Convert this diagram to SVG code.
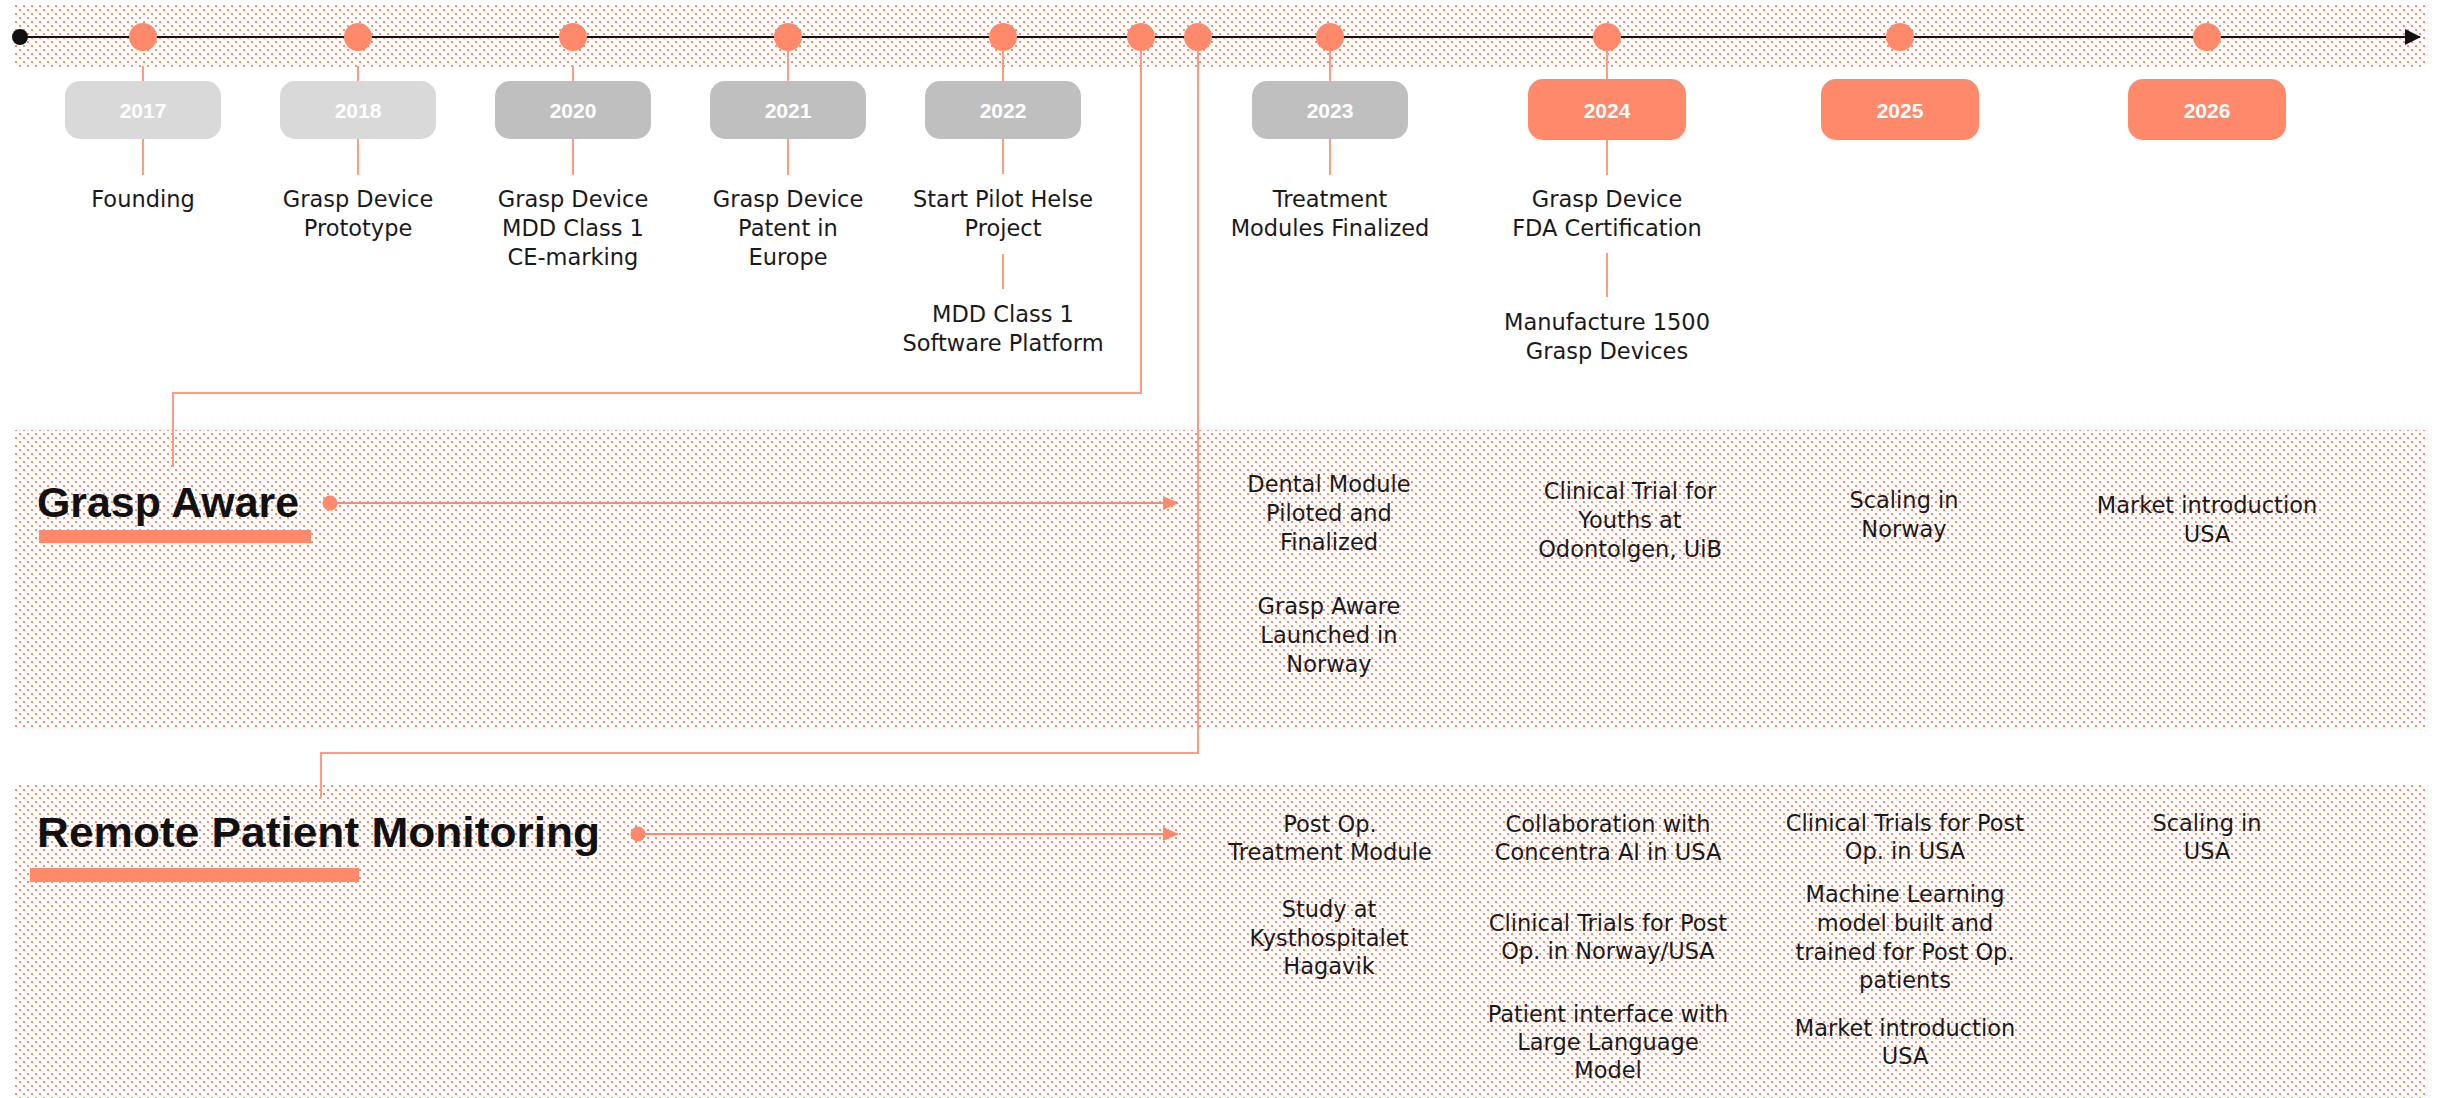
<svg xmlns="http://www.w3.org/2000/svg" width="2443" height="1098" viewBox="0 0 2443 1098">
<defs>
<pattern id="dots" x="15" y="5" width="8" height="8" patternUnits="userSpaceOnUse">
<rect x="0" y="0" width="2" height="2" fill="#ff8a6b"/>
<rect x="4" y="4" width="2" height="2" fill="#ff8a6b"/>
</pattern>
<marker id="oarrow" viewBox="0 0 16 14" refX="15" refY="7" markerWidth="16" markerHeight="14" markerUnits="userSpaceOnUse" orient="auto">
<path d="M0,0 L16,7 L0,14 Z" fill="#ff8a6b"/>
</marker>
<marker id="barrow" viewBox="0 0 16 16" refX="15" refY="8" markerWidth="16" markerHeight="16" markerUnits="userSpaceOnUse" orient="auto">
<path d="M0,0 L16,8 L0,16 Z" fill="#111"/>
</marker>
</defs>
<style>
.band{fill:url(#dots)}
.lbl{font-family:"DejaVu Sans","Liberation Sans",sans-serif;font-size:22.5px;fill:#1a1a1a;text-anchor:middle}
.yr{font-family:"Liberation Sans",Arial,sans-serif;font-weight:bold;font-size:21px;fill:#ffffff;text-anchor:middle}
.hdr{font-family:"Liberation Sans",Arial,sans-serif;font-weight:bold;font-size:42px;fill:#111111}
.conn{stroke:#ff9b82;stroke-width:2;fill:none}
.dot{fill:#ff8a6b}
.box-a{fill:#d9d9d9}
.box-b{fill:#bfbfbf}
.box-c{fill:#ff8a6b}
</style>
<rect x="0" y="0" width="2443" height="1098" fill="#ffffff"/>

<g id="bands">
<rect class="band" x="15" y="5" width="2411" height="62"/>
<rect class="band" x="15" y="430" width="2411" height="298"/>
<rect class="band" x="15" y="785" width="2411" height="313"/>
</g>

<g id="connectors">
<line x1="20" y1="37" x2="2420" y2="37" stroke="#111" stroke-width="2" marker-end="url(#barrow)"/>
<line class="conn" x1="143" y1="66" x2="143" y2="81"/>
<line class="conn" x1="358" y1="66" x2="358" y2="81"/>
<line class="conn" x1="573" y1="66" x2="573" y2="81"/>
<line class="conn" x1="788" y1="51" x2="788" y2="81"/>
<line class="conn" x1="1003" y1="51" x2="1003" y2="81"/>
<line class="conn" x1="1330" y1="51" x2="1330" y2="81"/>
<line class="conn" x1="1607" y1="51" x2="1607" y2="80"/>
<line class="conn" x1="143" y1="139" x2="143" y2="175"/>
<line class="conn" x1="358" y1="139" x2="358" y2="175"/>
<line class="conn" x1="573" y1="139" x2="573" y2="175"/>
<line class="conn" x1="788" y1="139" x2="788" y2="175"/>
<line class="conn" x1="1003" y1="139" x2="1003" y2="174"/>
<line class="conn" x1="1330" y1="139" x2="1330" y2="175"/>
<line class="conn" x1="1607" y1="140" x2="1607" y2="175"/>
<line class="conn" x1="1003" y1="254" x2="1003" y2="289"/>
<line class="conn" x1="1607" y1="253" x2="1607" y2="297"/>
<path class="conn" d="M1141,51 V393 H173 V467"/>
<path class="conn" d="M1198,51 V753 H321 V798"/>
<line x1="336" y1="503" x2="1178" y2="503" stroke="#ff8a6b" stroke-width="2" marker-end="url(#oarrow)"/>
<line x1="644" y1="834" x2="1178" y2="834" stroke="#ff8a6b" stroke-width="2" marker-end="url(#oarrow)"/>
</g>

<g id="timeline-start">
<circle cx="20" cy="37" r="8" fill="#111"/>
</g>

<g id="milestone-dots">
<circle class="dot" cx="143" cy="37" r="14"/>
<circle class="dot" cx="358" cy="37" r="14"/>
<circle class="dot" cx="573" cy="37" r="14"/>
<circle class="dot" cx="788" cy="37" r="14"/>
<circle class="dot" cx="1003" cy="37" r="14"/>
<circle class="dot" cx="1141" cy="37" r="14"/>
<circle class="dot" cx="1198" cy="37" r="14"/>
<circle class="dot" cx="1330" cy="37" r="14"/>
<circle class="dot" cx="1607" cy="37" r="14"/>
<circle class="dot" cx="1900" cy="37" r="14"/>
<circle class="dot" cx="2207" cy="37" r="14"/>
</g>

<g id="y2017">
<rect class="box-a" x="65" y="81" width="156" height="58" rx="15"/>
<text class="yr" x="143" y="118">2017</text>
<text class="lbl" x="143" y="207">Founding</text>
</g>
<g id="y2018">
<rect class="box-a" x="280" y="81" width="156" height="58" rx="15"/>
<text class="yr" x="358" y="118">2018</text>
<text class="lbl"><tspan x="358" y="207">Grasp Device</tspan><tspan x="358" y="236">Prototype</tspan></text>
</g>
<g id="y2020">
<rect class="box-b" x="495" y="81" width="156" height="58" rx="15"/>
<text class="yr" x="573" y="118">2020</text>
<text class="lbl"><tspan x="573" y="207">Grasp Device</tspan><tspan x="573" y="236">MDD Class 1</tspan><tspan x="573" y="265">CE-marking</tspan></text>
</g>
<g id="y2021">
<rect class="box-b" x="710" y="81" width="156" height="58" rx="15"/>
<text class="yr" x="788" y="118">2021</text>
<text class="lbl"><tspan x="788" y="207">Grasp Device</tspan><tspan x="788" y="236">Patent in</tspan><tspan x="788" y="265">Europe</tspan></text>
</g>
<g id="y2022">
<rect class="box-b" x="925" y="81" width="156" height="58" rx="15"/>
<text class="yr" x="1003" y="118">2022</text>
<text class="lbl"><tspan x="1003" y="207">Start Pilot Helse</tspan><tspan x="1003" y="236">Project</tspan></text>
<text class="lbl"><tspan x="1003" y="322">MDD Class 1</tspan><tspan x="1003" y="351">Software Platform</tspan></text>
</g>
<g id="y2023">
<rect class="box-b" x="1252" y="81" width="156" height="58" rx="15"/>
<text class="yr" x="1330" y="118">2023</text>
<text class="lbl"><tspan x="1330" y="207">Treatment</tspan><tspan x="1330" y="236">Modules Finalized</tspan></text>
</g>
<g id="y2024">
<rect class="box-c" x="1528" y="79" width="158" height="61" rx="15"/>
<text class="yr" x="1607" y="118">2024</text>
<text class="lbl"><tspan x="1607" y="207">Grasp Device</tspan><tspan x="1607" y="236">FDA Certification</tspan></text>
<text class="lbl"><tspan x="1607" y="330">Manufacture 1500</tspan><tspan x="1607" y="359">Grasp Devices</tspan></text>
</g>
<g id="y2025">
<rect class="box-c" x="1821" y="79" width="158" height="61" rx="15"/>
<text class="yr" x="1900" y="118">2025</text>
</g>
<g id="y2026">
<rect class="box-c" x="2128" y="79" width="158" height="61" rx="15"/>
<text class="yr" x="2207" y="118">2026</text>
</g>

<g id="grasp-aware">
<text class="hdr" x="37" y="517" textLength="262" lengthAdjust="spacingAndGlyphs">Grasp Aware</text>
<rect x="39" y="530" width="272" height="13" fill="#ff8a6b"/>
<circle class="dot" cx="330" cy="503" r="7.5"/>
</g>
<g id="ga-2023">
<text class="lbl"><tspan x="1329" y="492">Dental Module</tspan><tspan x="1329" y="521">Piloted and</tspan><tspan x="1329" y="550">Finalized</tspan></text>
<text class="lbl"><tspan x="1329" y="614">Grasp Aware</tspan><tspan x="1329" y="643">Launched in</tspan><tspan x="1329" y="672">Norway</tspan></text>
</g>
<g id="ga-2024">
<text class="lbl"><tspan x="1630" y="499">Clinical Trial for</tspan><tspan x="1630" y="528">Youths at</tspan><tspan x="1630" y="557">Odontolgen, UiB</tspan></text>
</g>
<g id="ga-2025">
<text class="lbl"><tspan x="1904" y="508">Scaling in</tspan><tspan x="1904" y="537">Norway</tspan></text>
</g>
<g id="ga-2026">
<text class="lbl"><tspan x="2207" y="513">Market introduction</tspan><tspan x="2207" y="542">USA</tspan></text>
</g>

<g id="remote-patient-monitoring">
<text class="hdr" x="37" y="847" textLength="563" lengthAdjust="spacingAndGlyphs">Remote Patient Monitoring</text>
<rect x="30" y="868" width="329" height="14" fill="#ff8a6b"/>
<circle class="dot" cx="638" cy="834" r="7.5"/>
</g>
<g id="rpm-2023">
<text class="lbl"><tspan x="1330" y="832">Post Op.</tspan><tspan x="1330" y="860">Treatment Module</tspan></text>
<text class="lbl"><tspan x="1329" y="917">Study at</tspan><tspan x="1329" y="946">Kysthospitalet</tspan><tspan x="1329" y="974">Hagavik</tspan></text>
</g>
<g id="rpm-2024">
<text class="lbl"><tspan x="1608" y="832">Collaboration with</tspan><tspan x="1608" y="860">Concentra AI in USA</tspan></text>
<text class="lbl"><tspan x="1608" y="931">Clinical Trials for Post</tspan><tspan x="1608" y="959">Op. in Norway/USA</tspan></text>
<text class="lbl"><tspan x="1608" y="1022">Patient interface with</tspan><tspan x="1608" y="1050">Large Language</tspan><tspan x="1608" y="1078">Model</tspan></text>
</g>
<g id="rpm-2025">
<text class="lbl"><tspan x="1905" y="831">Clinical Trials for Post</tspan><tspan x="1905" y="859">Op. in USA</tspan></text>
<text class="lbl"><tspan x="1905" y="902">Machine Learning</tspan><tspan x="1905" y="931">model built and</tspan><tspan x="1905" y="960">trained for Post Op.</tspan><tspan x="1905" y="988">patients</tspan></text>
<text class="lbl"><tspan x="1905" y="1036">Market introduction</tspan><tspan x="1905" y="1064">USA</tspan></text>
</g>
<g id="rpm-2026">
<text class="lbl"><tspan x="2207" y="831">Scaling in</tspan><tspan x="2207" y="859">USA</tspan></text>
</g>
</svg>
